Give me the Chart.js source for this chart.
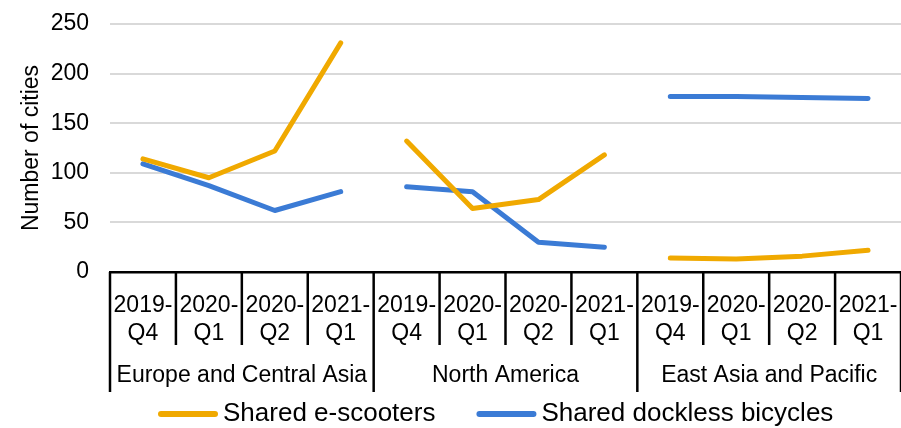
<!DOCTYPE html>
<html>
<head>
<meta charset="utf-8">
<script src="https://cdn.jsdelivr.net/npm/chart.js@4"></script>
<style>
  html, body { margin: 0; padding: 0; background: #fff; }
  #wrap { width: 901px; height: 428px; }
</style>
</head>
<body>
<div id="wrap"><canvas id="chart"></canvas></div>
<script>
// chart data
const regions = ["Europe and Central Asia", "North America", "East Asia and Pacific"];
const quarters = [["2019-", "Q4"], ["2020-", "Q1"], ["2020-", "Q2"], ["2021-", "Q1"]];
const scooters = [114, 95, 122, 231, 132, 64, 73, 118, 14, 13, 16, 22];
const bicycles = [109, 87, 62, 81, 86, 81, 30, 25, 177, 177, 176, 175];
const seriesNames = ["Shared e-scooters", "Shared dockless bicycles"];
const yMin = 0, yMax = 250, yStep = 50;

const ORANGE = "#f0a900";
const BLUE = "#3b7bd5";
const FONT = "'Liberation Sans', Arial, sans-serif";

const labels = [];
regions.forEach(r => quarters.forEach(q => labels.push(q)));

// hide the segment that would join two regions
const perRegion = quarters.length;
const gapSegment = ctx => (ctx.p0DataIndex % perRegion === perRegion - 1) ? "rgba(0,0,0,0)" : undefined;

// multi level category labels + legend
const groupAxis = {
    id: "groupAxis",
    afterDraw(chart) {
        const ctx = chart.ctx;
        const x = chart.scales.x;
        const bottom = chart.chartArea.bottom;
        const step = x.getPixelForValue(1) - x.getPixelForValue(0);
        ctx.save();
        ctx.strokeStyle = "#000";
        ctx.lineWidth = 2.5;
        for (let k = 0; k <= labels.length; k++) {
            const px = x.getPixelForValue(k) - step / 2;
            const len = (k % perRegion === 0) ? 120 : 73;
            ctx.beginPath();
            ctx.moveTo(px, bottom);
            ctx.lineTo(px, bottom + len);
            ctx.stroke();
        }
        ctx.fillStyle = "#000";
        ctx.textAlign = "center";
        ctx.textBaseline = "middle";
        ctx.font = "23px " + FONT;
        labels.forEach((q, i) => {
            const px = x.getPixelForValue(i);
            ctx.fillText(q[0], px, bottom + 34);
            ctx.fillText(q[1], px, bottom + 62);
        });
        regions.forEach((r, g) => {
            const a = x.getPixelForValue(g * perRegion) - step / 2;
            const b = x.getPixelForValue(g * perRegion + perRegion - 1) + step / 2;
            ctx.fillText(r, (a + b) / 2, bottom + 104);
        });

        // legend
        ctx.font = "26px " + FONT;
        ctx.textAlign = "left";
        const ly = 414;
        let lx = 161;
        chart.data.datasets.forEach(ds => {
            ctx.strokeStyle = ds.borderColor;
            ctx.lineWidth = 6;
            ctx.lineCap = "round";
            ctx.beginPath();
            ctx.moveTo(lx, ly);
            ctx.lineTo(lx + 54, ly);
            ctx.stroke();
            ctx.fillStyle = "#000";
            ctx.fillText(ds.label, lx + 62, ly);
            lx += 62 + ctx.measureText(ds.label).width + 44;
        });
        ctx.restore();
    }
};

new Chart(document.getElementById("chart"), {
    type: "line",
    data: {
        labels: labels.map(q => q.join("")),
        datasets: [
            { label: seriesNames[0], data: scooters, borderColor: ORANGE, backgroundColor: ORANGE,
              segment: { borderColor: gapSegment } },
            { label: seriesNames[1], data: bicycles, borderColor: BLUE, backgroundColor: BLUE,
              segment: { borderColor: gapSegment } }
        ]
    },
    options: {
        responsive: true,
        maintainAspectRatio: false,
        animation: false,
        layout: { padding: { top: 24, right: -6, bottom: 36, left: 0 } },
        elements: {
            point: { radius: 0, hoverRadius: 0 },
            line: { borderWidth: 5, borderCapStyle: "round", borderJoinStyle: "round", tension: 0 }
        },
        plugins: {
            legend: { display: false },
            tooltip: { enabled: false }
        },
        scales: {
            x: {
                offset: true,
                grid: { display: false },
                ticks: { display: false },
                border: { display: true, color: "#000", width: 2.5 },
                afterFit: s => { s.height = 120; }
            },
            y: {
                min: yMin,
                max: yMax,
                ticks: { stepSize: yStep, padding: 21, color: "#000", font: { family: FONT, size: 23 } },
                grid: { color: "#d9d9d9", lineWidth: 2, drawTicks: false },
                border: { display: false },
                title: { display: true, text: "Number of cities", color: "#000",
                         font: { family: FONT, size: 23 }, padding: { top: 18, bottom: 0 } },
                afterFit: s => { s.width = 110; s.paddingTop = 0; s.paddingBottom = 0; }
            }
        }
    },
    plugins: [groupAxis]
});
</script>
</body>
</html>
